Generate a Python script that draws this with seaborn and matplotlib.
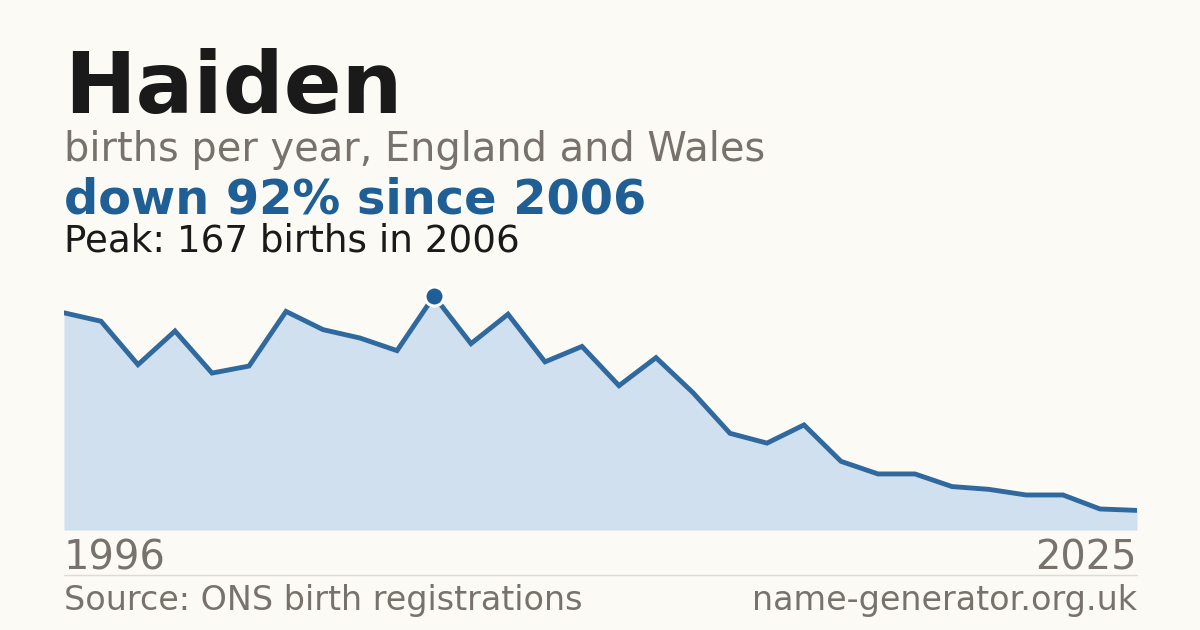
import matplotlib
matplotlib.use("Agg")
import matplotlib.pyplot as plt
import seaborn as sns
import pandas as pd

years = list(range(1996, 2026))
births = [155, 149, 118, 142, 112, 117, 156, 143, 137, 128,
          167, 133, 154, 120, 131, 103, 123, 98, 69, 62,
          75, 49, 40, 40, 31, 29, 25, 25, 15, 14]

title = "Haiden"
subtitle = "births per year, England and Wales"
headline = "down 92% since 2006"
peak_text = "Peak: 167 births in 2006"
source = "Source: ONS birth registrations"
site = "name-generator.org.uk"

BG = "#fbfaf5"
BLUE = "#1f5f96"
LINE = "#30699d"
FILL = "#d0e0ef"
GRAY = "#77726c"
DARK = "#1a1a1a"

sns.set_theme(style="white")
plt.rcParams["font.family"] = ["DejaVu Sans"]

df = pd.DataFrame({"year": years, "births": births})
W, H = 1200, 630
fig = plt.figure(figsize=(12, 6.3), dpi=100, facecolor=BG)

ax = fig.add_axes([64 / W, 1 - 530 / H, 1073 / W, 246 / H])
ax.set_facecolor(BG)
ax.fill_between(df["year"], df["births"], 0, color=FILL, linewidth=0)
sns.lineplot(data=df, x="year", y="births", ax=ax, color=LINE, linewidth=3.5,
             solid_joinstyle="miter")
pk = df.loc[df["births"].idxmax()]
ax.plot([pk["year"]], [pk["births"]], "o", color=BLUE, markersize=13.7,
        markeredgecolor="white", markeredgewidth=2.2, zorder=5, clip_on=False)
ax.set_xlim(years[0], years[-1])
ax.set_ylim(0, max(births) * 246 / 234)
ax.axis("off")

def t(x, y, s, **kw):
    fig.text(x / W, 1 - y / H, s, va="baseline", **kw)

t(64, 113, title, fontsize=61.6, fontweight="bold", color=DARK)
t(64, 161, subtitle, fontsize=28.7, color=GRAY)
t(64, 214, headline, fontsize=34.5, fontweight="bold", color=BLUE)
t(64, 252, peak_text, fontsize=26.8, color=DARK)
t(64, 569, str(years[0]), fontsize=28.8, color=GRAY)
t(1137, 569, str(years[-1]), fontsize=28.8, color=GRAY, ha="right")
t(64, 610, source, fontsize=24, color=GRAY)
t(1137, 610, site, fontsize=24, color=GRAY, ha="right")

fig.add_artist(plt.Line2D([64 / W, 1137 / W], [1 - 574.5 / H, 1 - 574.5 / H],
                          color="#dedbd4", linewidth=1))

fig.savefig("out.png", dpi=100, facecolor=BG)
